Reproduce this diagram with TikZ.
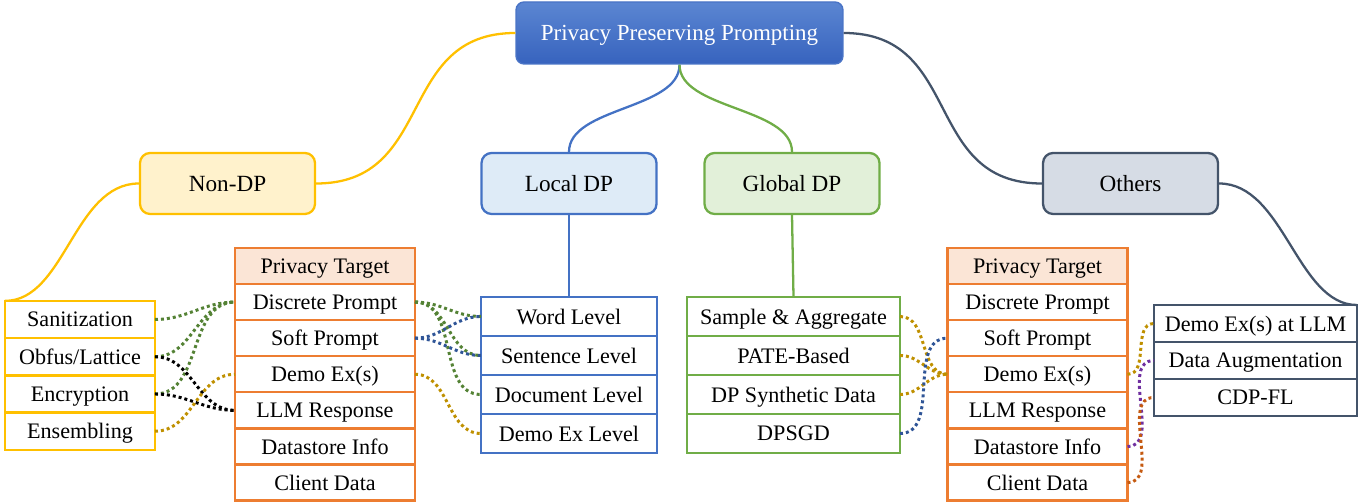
\documentclass[tikz,border=0pt]{standalone}
\usepackage{fontspec}
\setmainfont{Liberation Serif}
\usetikzlibrary{positioning}

\definecolor{roottop}{HTML}{5B86D2}
\definecolor{rootbot}{HTML}{3763BE}
\definecolor{rootline}{HTML}{4A74C6}
\definecolor{ndline}{HTML}{FFC000}
\definecolor{ndfill}{HTML}{FFF2CC}
\definecolor{ldline}{HTML}{4472C4}
\definecolor{ldfill}{HTML}{DEEBF7}
\definecolor{gdline}{HTML}{70AD47}
\definecolor{gdfill}{HTML}{E2F0D9}
\definecolor{otline}{HTML}{44546A}
\definecolor{otfill}{HTML}{D6DCE5}
\definecolor{tgline}{HTML}{ED7D31}
\definecolor{tgfill}{HTML}{FBE5D6}
\definecolor{dgreen}{HTML}{548235}
\definecolor{dgold}{HTML}{BF9000}
\definecolor{dblue}{HTML}{2F5597}
\definecolor{dpurple}{HTML}{7030A0}
\definecolor{dorange}{HTML}{C55A11}

\begin{document}
\begin{tikzpicture}[x=0.02cm,y=-0.02cm,font=\fontsize{12.6}{15}\selectfont,
    every node/.style={text depth=0pt},
    root node/.style={rectangle,rounded corners=0.16cm,draw=rootline,line width=0.8pt,
      top color=roottop,bottom color=rootbot,text=white,minimum width=6.54cm,minimum height=1.24cm,
      font=\fontsize{13.1}{15}\selectfont},
    group node/.style={rectangle,rounded corners=0.2cm,line width=1.3pt,
      minimum width=3.5cm,minimum height=1.22cm,font=\fontsize{13.2}{15}\selectfont},
    item node/.style={rectangle,draw,line width=1.3pt,outer sep=0pt,inner sep=1pt},
    nd item/.style={item node,draw=ndline,minimum width=3cm,minimum height=0.745cm},
    ld item/.style={item node,draw=ldline,minimum width=3.52cm,minimum height=0.78cm},
    gd item/.style={item node,draw=gdline,minimum width=4.26cm,minimum height=0.78cm},
    ot item/.style={item node,draw=otline,minimum width=4.06cm,minimum height=0.74cm},
    tg item/.style={item node,draw=tgline,minimum width=3.6cm,minimum height=0.722cm},
    branch/.style={draw=#1,line width=1.3pt},
    link/.style={draw=#1,line width=1.7pt,dash pattern=on 1.7pt off 1.7pt,out=0,in=180}]
  \useasboundingbox (0,0) rectangle (1371,502);

  % top and the four groups
  \node[root node] (root) at (679.5,33) {Privacy Preserving Prompting};
  \node[group node,draw=ndline,fill=ndfill] (nondp) at (227.5,183.5) {Non-DP};
  \node[group node,draw=ldline,fill=ldfill] (localdp) at (569,183.5) {Local DP};
  \node[group node,draw=gdline,fill=gdfill] (globaldp) at (792,183.5) {Global DP};
  \node[group node,draw=otline,fill=otfill] (others) at (1130.5,183.5) {Others};

  % Non-DP list
  \node[nd item] (san) at (80,319.5) {Sanitization};
  \node[nd item,below=0pt of san] (obf) {Obfus/Lattice};
  \node[nd item,below=0pt of obf] (enc) {Encryption};
  \node[nd item,below=0pt of enc] (ens) {Ensembling};

  % privacy targets, left
  \node[tg item,fill=tgfill] (lhead) at (325,266) {Privacy Target};
  \node[tg item,below=0pt of lhead] (ldisc) {Discrete Prompt};
  \node[tg item,below=0pt of ldisc] (lsoft) {Soft Prompt};
  \node[tg item,below=0pt of lsoft] (ldemo) {Demo Ex(s)};
  \node[tg item,below=0pt of ldemo] (lresp) {LLM Response};
  \node[tg item,below=0pt of lresp] (lstore) {Datastore Info};
  \node[tg item,below=0pt of lstore] (lclient) {Client Data};

  % Local DP list
  \node[ld item] (word) at (569,316.5) {Word Level};
  \node[ld item,below=0pt of word] (sent) {Sentence Level};
  \node[ld item,below=0pt of sent] (doc) {Document Level};
  \node[ld item,below=0pt of doc] (demolvl) {Demo Ex Level};

  % Global DP list
  \node[gd item] (sample) at (793.5,316.5) {Sample \& Aggregate};
  \node[gd item,below=0pt of sample] (pate) {PATE-Based};
  \node[gd item,below=0pt of pate] (synth) {DP Synthetic Data};
  \node[gd item,below=0pt of synth] (dpsgd) {DPSGD};

  % privacy targets, right
  \node[tg item,fill=tgfill] (rhead) at (1037.5,266) {Privacy Target};
  \node[tg item,below=0pt of rhead] (rdisc) {Discrete Prompt};
  \node[tg item,below=0pt of rdisc] (rsoft) {Soft Prompt};
  \node[tg item,below=0pt of rsoft] (rdemo) {Demo Ex(s)};
  \node[tg item,below=0pt of rdemo] (rresp) {LLM Response};
  \node[tg item,below=0pt of rresp] (rstore) {Datastore Info};
  \node[tg item,below=0pt of rstore] (rclient) {Client Data};

  % Others list
  \node[ot item] (llmdemo) at (1255.5,323.5) {Demo Ex(s) at LLM};
  \node[ot item,below=0pt of llmdemo] (augment) {Data Augmentation};
  \node[ot item,below=0pt of augment] (cdpfl) {CDP-FL};

  % tree branches
  \draw[branch=ndline] (root.west) .. controls +(-120,0) and +(120,0) .. (nondp.east);
  \draw[branch=otline] (root.east) .. controls +(120,0) and +(-120,0) .. (others.west);
  \draw[branch=ldline] (root.south) .. controls +(0,45) and +(0,-45) .. (localdp.north);
  \draw[branch=gdline] (root.south) .. controls +(0,45) and +(0,-45) .. (globaldp.north);
  \draw[branch=ndline] (nondp.west) .. controls +(-65,0) and +(60,0) .. (san.north west);
  \draw[branch=otline] (others.east) .. controls +(65,0) and +(-60,0) .. (llmdemo.north east);
  \draw[branch=ldline] (localdp.south) -- (word.north);
  \draw[branch=gdline] (globaldp.south) -- (sample.north);

  % dotted links
  \path
    (san.east) edge[link=dgreen] (ldisc.west)
    (obf.east) edge[link=dgreen] (ldisc.west)
    (enc.east) edge[link=dgreen] (ldisc.west)
    (obf.east) edge[link=black] (lresp.west)
    (enc.east) edge[link=black] (lresp.west)
    (ens.east) edge[link=dgold] (ldemo.west)
    (ldisc.east) edge[link=dgreen] (word.west)
    (ldisc.east) edge[link=dgreen] (sent.west)
    (ldisc.east) edge[link=dgreen] (doc.west)
    (lsoft.east) edge[link=dblue] (word.west)
    (lsoft.east) edge[link=dblue] (sent.west)
    (ldemo.east) edge[link=dgold] (demolvl.west)
    (sample.east) edge[link=dgold] (rdemo.west)
    (pate.east) edge[link=dgold] (rdemo.west)
    (synth.east) edge[link=dgold] (rdemo.west)
    (dpsgd.east) edge[link=dblue] (rsoft.west)
    (rdemo.east) edge[link=dgold] (llmdemo.west)
    (rstore.east) edge[link=dpurple] (augment.west)
    (rclient.east) edge[link=dorange] (cdpfl.west)
    ;
\end{tikzpicture}
\end{document}
